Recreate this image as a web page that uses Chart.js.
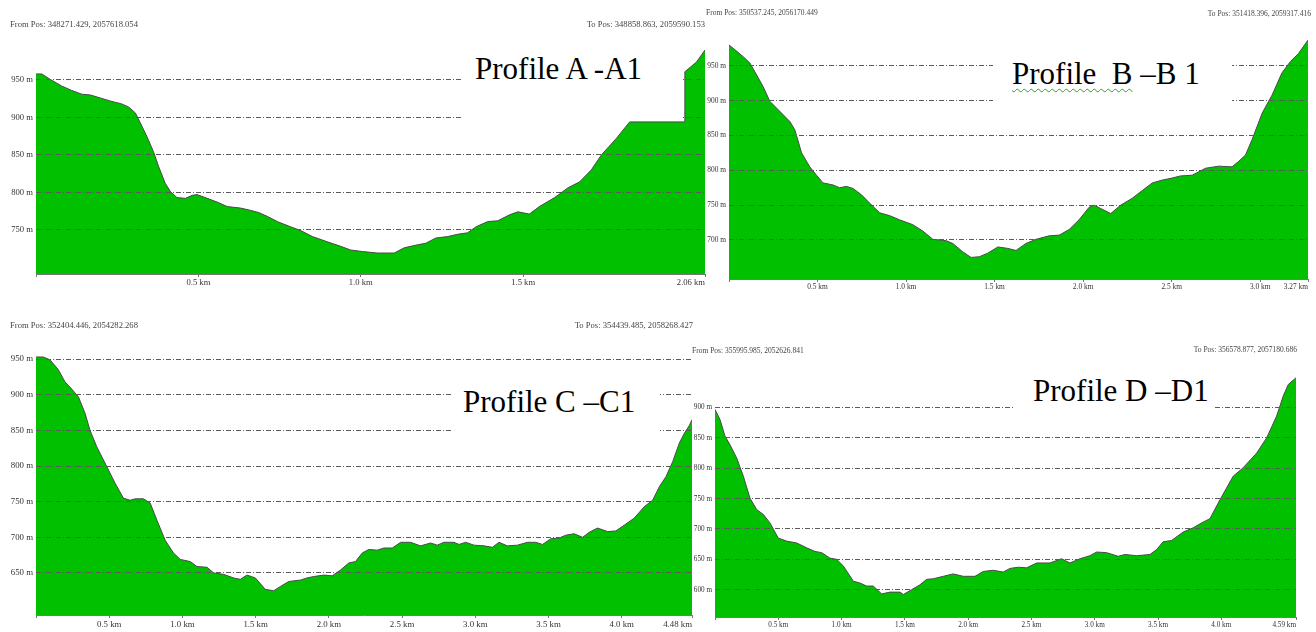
<!DOCTYPE html>
<html><head><meta charset="utf-8">
<script src="https://cdn.jsdelivr.net/npm/chart.js@4.4.1/dist/chart.umd.min.js"></script>
<style>
html,body{margin:0;padding:0;background:#fff;width:1316px;height:632px;overflow:hidden;position:relative;}
canvas{position:absolute;left:0;top:0;}
.hdr{position:absolute;font-family:'Liberation Serif','Times New Roman',serif;color:#444;white-space:nowrap;line-height:10px;z-index:7;}
.box{position:absolute;background:#fff;z-index:5;}
.ttl{position:absolute;font-family:'Liberation Serif','Times New Roman',serif;font-size:31px;line-height:31px;color:#000;white-space:pre;z-index:6;}
.sq{text-decoration:underline wavy #3a9a2a;text-decoration-thickness:1px;text-underline-offset:4px;}
</style></head><body>
<canvas id="cA" width="1316" height="632"></canvas>
<canvas id="cB" width="1316" height="632"></canvas>
<canvas id="cC" width="1316" height="632"></canvas>
<canvas id="cD" width="1316" height="632"></canvas>

<div class="hdr" style="left:10px;top:19px;font-size:8.6px;">From Pos: 348271.429, 2057618.054</div>
<div class="hdr" style="right:611px;top:19px;font-size:8.6px;">To Pos: 348858.863, 2059590.153</div>
<div class="hdr" style="left:706px;top:8px;font-size:7.5px;">From Pos: 350537.245, 2056170.449</div>
<div class="hdr" style="right:5px;top:9px;font-size:7.5px;">To Pos: 351418.396, 2059317.416</div>
<div class="hdr" style="left:10px;top:320px;font-size:8.6px;">From Pos: 352404.446, 2054282.268</div>
<div class="hdr" style="right:623px;top:320px;font-size:8.6px;">To Pos: 354439.485, 2058268.427</div>
<div class="hdr" style="left:692px;top:346px;font-size:7.5px;">From Pos: 355995.985, 2052626.841</div>
<div class="hdr" style="right:19px;top:345px;font-size:7.5px;">To Pos: 356578.877, 2057180.686</div>

<div class="box" style="left:463px;top:48px;width:220px;height:72px;"></div>
<div class="box" style="left:993px;top:42px;width:239px;height:70px;"></div>
<div class="box" style="left:452px;top:372px;width:208px;height:72px;"></div>
<div class="box" style="left:1015px;top:368px;width:198px;height:58px;"></div>

<div class="ttl" style="left:475px;top:53px;">Profile A -A1</div>
<div class="ttl" style="left:1012px;top:58px;"><span class="sq">Profile  B</span> –B 1</div>
<div class="ttl" style="left:463px;top:386px;">Profile C –C1</div>
<div class="ttl" style="left:1033px;top:375px;">Profile D –D1</div>

<script>
// ---------- DATA ----------
const distA = [0,0.018,0.043,0.079,0.110,0.141,0.167,0.198,0.228,0.264,
  0.285,0.306,0.321,0.342,0.362,0.378,0.398,0.414,0.434,0.460,
  0.481,0.496,0.527,0.558,0.589,0.630,0.660,0.686,0.712,0.743,
  0.784,0.815,0.851,0.897,0.938,0.969,1.005,1.052,1.103,1.134,
  1.175,1.200,1.231,1.268,1.298,1.329,1.355,1.391,1.422,1.458,
  1.484,1.519,1.550,1.597,1.638,1.674,1.710,1.741,1.787,1.828,
  1.998,1.998,2.034,2.06];
const elevA = [958,958,951,942,936,931,930,926,922,918,
  914,906,893,874,854,834,812,801,793,792,
  796,797,792,787,781,779,776,773,768,761,
  754,749,741,734,728,723,721,719,719,726,
  730,732,739,741,744,746,754,761,762,770,
  774,771,781,793,806,814,830,850,872,894,
  894,961,974,990];

const distB = [0,0.034,0.081,0.118,0.156,0.193,0.231,0.278,0.344,0.372,
  0.410,0.456,0.494,0.531,0.588,0.625,0.663,0.700,0.748,0.794,
  0.851,0.907,0.963,1.038,1.094,1.151,1.226,1.264,1.320,1.367,
  1.414,1.461,1.518,1.573,1.621,1.677,1.734,1.808,1.865,1.921,
  1.977,2.034,2.062,2.156,2.212,2.278,2.334,2.391,2.447,2.503,
  2.550,2.616,2.654,2.691,2.766,2.841,2.879,2.917,2.954,3.011,
  3.067,3.123,3.170,3.217,3.27];
const elevB = [980,973,963,954,937,920,899,887,870,858,
  825,805,793,782,779,775,777,774,765,753,
  739,735,729,722,713,701,699,695,683,675,
  676,681,690,688,685,695,701,706,707,715,
  729,747,750,738,750,760,771,782,786,789,
  792,793,798,803,806,805,813,822,844,882,
  908,940,956,968,987];

const distC = [0,0.05,0.096,0.153,0.198,0.244,0.290,0.335,0.369,0.415,
  0.484,0.540,0.597,0.643,0.677,0.734,0.780,0.826,0.882,0.939,
  0.985,1.053,1.099,1.168,1.213,1.281,1.350,1.395,1.441,1.498,
  1.566,1.623,1.669,1.726,1.806,1.851,1.897,1.965,2.023,2.079,
  2.136,2.182,2.228,2.273,2.330,2.375,2.433,2.490,2.558,2.626,
  2.695,2.740,2.786,2.854,2.889,2.934,2.991,3.060,3.117,3.162,
  3.219,3.288,3.356,3.413,3.459,3.516,3.573,3.618,3.675,3.733,
  3.778,3.835,3.904,3.960,4.017,4.086,4.154,4.211,4.257,4.302,
  4.348,4.393,4.428,4.462,4.48];
const elevC = [953,953,949,935,918,908,897,874,850,827,
  799,776,755,752,754,754,748,724,696,678,
  669,666,659,658,650,648,643,641,647,643,
  627,625,631,638,640,643,645,647,646,654,
  664,666,678,683,682,685,685,693,693,688,
  692,689,693,693,690,693,689,688,686,693,
  688,689,693,693,690,698,699,703,705,700,
  707,713,708,709,717,727,743,752,771,785,
  806,832,846,857,865];

const distD = [0,0.040,0.079,0.118,0.171,0.224,0.276,0.329,0.382,0.434,
  0.500,0.566,0.645,0.724,0.790,0.843,0.908,0.961,1.014,1.093,
  1.145,1.198,1.250,1.317,1.382,1.461,1.488,1.553,1.619,1.672,
  1.725,1.803,1.882,1.961,2.054,2.119,2.198,2.277,2.330,2.396,
  2.462,2.541,2.646,2.738,2.804,2.883,2.962,3.015,3.094,3.186,
  3.239,3.331,3.436,3.489,3.541,3.607,3.699,3.778,3.844,3.910,
  3.989,4.094,4.173,4.279,4.358,4.437,4.489,4.529,4.59];
const elevD = [897,880,853,839,817,787,751,732,724,710,
  685,680,677,669,663,661,652,650,639,614,
  611,606,606,593,596,596,592,600,608,617,
  618,622,626,622,622,630,632,629,635,637,
  636,644,644,651,644,651,656,662,661,655,
  658,656,658,666,679,681,695,702,710,717,
  748,787,801,825,850,886,919,938,949];

const yTicksA = [750,800,850,900,950];
const yTicksB = [700,750,800,850,900,950];
const yTicksC = [650,700,750,800,850,900,950];
const yTicksD = [600,650,700,750,800,850,900];

const xTicksA = [0,0.5,1.0,1.5,2.06];
const xTicksB = [0,0.5,1.0,1.5,2.0,2.5,3.0,3.27];
const xTicksC = [0,0.5,1.0,1.5,2.0,2.5,3.0,3.5,4.0,4.48];
const xTicksD = [0,0.5,1.0,1.5,2.0,2.5,3.0,3.5,4.0,4.59];

const xLabelsA = ['','0.5 km','1.0 km','1.5 km','2.06 km'];
const xLabelsB = ['','0.5 km','1.0 km','1.5 km','2.0 km','2.5 km','3.0 km','3.27 km'];
const xLabelsC = ['','0.5 km','1.0 km','1.5 km','2.0 km','2.5 km','3.0 km','3.5 km','4.0 km','4.48 km'];
const xLabelsD = ['','0.5 km','1.0 km','1.5 km','2.0 km','2.5 km','3.0 km','3.5 km','4.0 km','4.59 km'];

// ---------- LAYOUT ----------
const W = 1316, H = 632, AXW = 30, AXH = 14;
const FONT = "'Liberation Serif','Times New Roman',serif";

function makePanel(id, dist, elev, yTicks, xTicks, xLabels, box, fs) {
  const pts = dist.map((d, i) => ({x: d, y: elev[i]}));
  new Chart(document.getElementById(id), {
    type: 'line',
    data: {datasets: [{
      data: pts, fill: 'start', backgroundColor: '#00c000',
      borderColor: '#4a4a4a', borderWidth: 1, pointRadius: 0, tension: 0
    }]},
    options: {
      responsive: false, animation: false, devicePixelRatio: 1,
      layout: {padding: {left: box.l - AXW, right: W - box.r, top: box.t, bottom: H - box.b - AXH}},
      plugins: {legend: {display: false}, tooltip: {enabled: false}},
      scales: {
        x: {
          type: 'linear', min: 0, max: xTicks[xTicks.length - 1],
          afterBuildTicks: s => { s.ticks = xTicks.map(v => ({value: v})); },
          afterFit: s => { s.height = AXH; s.paddingLeft = 0; s.paddingRight = 0; },
          ticks: {autoSkip: false, maxRotation: 0, align: 'inner', padding: 1,
            color: '#333', font: {family: FONT, size: fs},
            callback: (v, i) => xLabels[i]},
          grid: {display: true, drawOnChartArea: false, drawTicks: true, tickLength: 3,
            color: '#777', tickBorderDash: []},
          border: {display: true, color: '#777', width: 1}
        },
        y: {
          min: box.ymin, max: box.ymax,
          afterBuildTicks: s => { s.ticks = yTicks.map(v => ({value: v})); },
          afterFit: s => { s.width = AXW; },
          ticks: {padding: 3, color: '#333', font: {family: FONT, size: fs},
            callback: v => v + ' m'},
          grid: {color: '#5a5a5a', lineWidth: 1, drawTicks: false, z: 1},
          border: {display: false, dash: [5, 2, 1, 2]}
        }
      }
    }
  });
}

makePanel('cA', distA, elevA, yTicksA, xTicksA, xLabelsA, {l: 36, r: 705, t: 44, b: 274, ymin: 691, ymax: 998}, 8.6);
makePanel('cB', distB, elevB, yTicksB, xTicksB, xLabelsB, {l: 729, r: 1308, t: 38, b: 279, ymin: 644, ymax: 990}, 7.4);
makePanel('cC', distC, elevC, yTicksC, xTicksC, xLabelsC, {l: 36, r: 692, t: 352, b: 615, ymin: 591, ymax: 960}, 8.8);
makePanel('cD', distD, elevD, yTicksD, xTicksD, xLabelsD, {l: 715, r: 1296, t: 376, b: 617, ymin: 555, ymax: 952}, 7.2);
</script>
</body></html>
